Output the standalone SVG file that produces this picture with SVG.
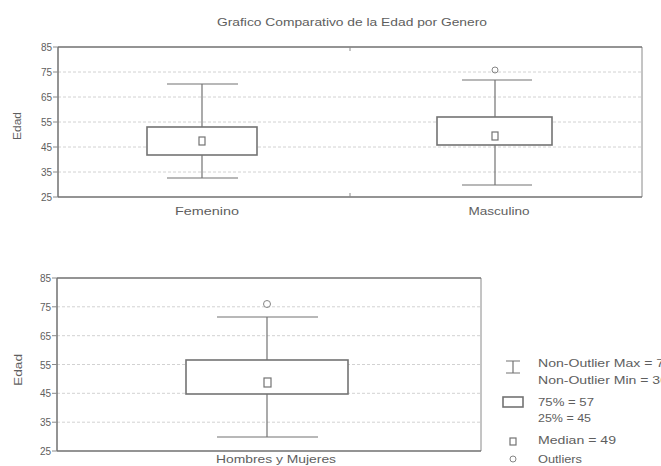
<svg xmlns="http://www.w3.org/2000/svg" width="661" height="466" viewBox="0 0 661 466">
<style>
text{font-family:"Liberation Sans",Arial,sans-serif;fill:#5e5e5e;font-size:11px}
.tick{text-anchor:end;font-size:10px}
.mid{text-anchor:middle}
.frame{stroke:#707070;stroke-width:1.5;fill:none}
.frameL{stroke:#8a8a8a;stroke-width:1;fill:none}
.grid{stroke:#d2d2d2;stroke-width:1;stroke-dasharray:3 2}
.box{fill:#fff;stroke:#737373;stroke-width:1.6}
.wh{stroke:#737373;stroke-width:1.2;fill:none}
.med{fill:#fff;stroke:#737373;stroke-width:1.2}
.out{fill:none;stroke:#858585;stroke-width:1}
</style>
<rect width="661" height="466" fill="#fff"/>
<text class="mid" x="352" y="26" textLength="270" lengthAdjust="spacingAndGlyphs">Grafico Comparativo de la Edad por Genero</text>

<g id="chart-top">
  <g id="grid-top">
    <line class="grid" x1="58" y1="72" x2="642" y2="72"/>
    <line class="grid" x1="58" y1="97" x2="642" y2="97"/>
    <line class="grid" x1="58" y1="122" x2="642" y2="122"/>
    <line class="grid" x1="58" y1="147" x2="642" y2="147"/>
    <line class="grid" x1="58" y1="172" x2="642" y2="172"/>
  </g>
  <g id="axes-top">
    <line class="frameL" x1="642" y1="47" x2="642" y2="197"/>
    <line class="frame" x1="58" y1="47" x2="642" y2="47"/>
    <line class="frame" x1="58" y1="197" x2="642" y2="197"/>
    <line class="frame" x1="58" y1="47" x2="58" y2="197"/>
    <path class="frameL" d="M53 47H58M53 72H58M53 97H58M53 122H58M53 147H58M53 172H58M53 197H58M350 47V51M350 193V197"/>
    <text class="tick" x="52" y="51">85</text>
    <text class="tick" x="52" y="76">75</text>
    <text class="tick" x="52" y="101">65</text>
    <text class="tick" x="52" y="126">55</text>
    <text class="tick" x="52" y="151">45</text>
    <text class="tick" x="52" y="176">35</text>
    <text class="tick" x="52" y="201">25</text>
    <text class="mid" transform="translate(21,126) rotate(-90)" textLength="28" lengthAdjust="spacingAndGlyphs">Edad</text>
    <text class="mid" x="207" y="215" textLength="64" lengthAdjust="spacingAndGlyphs">Femenino</text>
    <text class="mid" x="499" y="215" textLength="61" lengthAdjust="spacingAndGlyphs">Masculino</text>
  </g>
  <g id="box-femenino">
    <path class="wh" d="M202 84V127M202 155V178M167 84H238M167 178H238"/>
    <rect class="box" x="147" y="127" width="110" height="28"/>
    <rect class="med" x="199" y="137" width="6" height="8"/>
  </g>
  <g id="box-masculino">
    <path class="wh" d="M495 80V117M495 145V185M462 80H532M462 185H532"/>
    <rect class="box" x="437" y="117" width="115" height="28"/>
    <rect class="med" x="492" y="132" width="6" height="8"/>
    <circle class="out" cx="495" cy="70" r="3"/>
  </g>
</g>

<g id="chart-bottom">
  <g id="grid-bottom">
    <line class="grid" x1="57" y1="306.8" x2="481" y2="306.8"/>
    <line class="grid" x1="57" y1="335.7" x2="481" y2="335.7"/>
    <line class="grid" x1="57" y1="364.5" x2="481" y2="364.5"/>
    <line class="grid" x1="57" y1="393.3" x2="481" y2="393.3"/>
    <line class="grid" x1="57" y1="422.2" x2="481" y2="422.2"/>
  </g>
  <g id="axes-bottom">
    <line class="frameL" x1="481" y1="278" x2="481" y2="451"/>
    <line class="frame" x1="57" y1="278" x2="481" y2="278"/>
    <line class="frame" x1="57" y1="451" x2="481" y2="451"/>
    <line class="frame" x1="57" y1="278" x2="57" y2="451"/>
    <path class="frameL" d="M52 278H57M52 306.8H57M52 335.7H57M52 364.5H57M52 393.3H57M52 422.2H57M52 451H57"/>
    <text class="tick" x="51" y="282">85</text>
    <text class="tick" x="51" y="310.8">75</text>
    <text class="tick" x="51" y="339.7">65</text>
    <text class="tick" x="51" y="368.5">55</text>
    <text class="tick" x="51" y="397.3">45</text>
    <text class="tick" x="51" y="426.2">35</text>
    <text class="tick" x="51" y="455">25</text>
    <text class="mid" transform="translate(22,370) rotate(-90)" textLength="32" lengthAdjust="spacingAndGlyphs">Edad</text>
    <text class="mid" x="276" y="463" textLength="120" lengthAdjust="spacingAndGlyphs">Hombres y Mujeres</text>
  </g>
  <g id="box-total">
    <path class="wh" d="M267 317V360M267 394V437M217 317H318M217 437H318"/>
    <rect class="box" x="186" y="360" width="162" height="34"/>
    <rect class="med" x="264" y="378" width="7" height="9"/>
    <circle class="out" cx="267" cy="304" r="3.5"/>
  </g>
</g>

<g id="legend">
  <g id="legend-whisker">
    <path class="wh" d="M513 361V373M506 361H520M506 373H520"/>
    <text x="538" y="367" textLength="134" lengthAdjust="spacingAndGlyphs">Non-Outlier Max = 71</text>
    <text x="538" y="384" textLength="130" lengthAdjust="spacingAndGlyphs">Non-Outlier Min = 30</text>
  </g>
  <g id="legend-box">
    <rect class="box" x="503" y="397" width="20" height="10"/>
    <text x="538" y="406" textLength="56" lengthAdjust="spacingAndGlyphs">75% = 57</text>
    <text x="538" y="422" textLength="53" lengthAdjust="spacingAndGlyphs">25% = 45</text>
  </g>
  <g id="legend-median">
    <rect class="med" x="510" y="438" width="6" height="7"/>
    <text x="538" y="444" textLength="78" lengthAdjust="spacingAndGlyphs">Median = 49</text>
  </g>
  <g id="legend-outlier">
    <circle class="out" cx="513" cy="459" r="3"/>
    <text x="538" y="463" textLength="44" lengthAdjust="spacingAndGlyphs">Outliers</text>
  </g>
</g>
</svg>
